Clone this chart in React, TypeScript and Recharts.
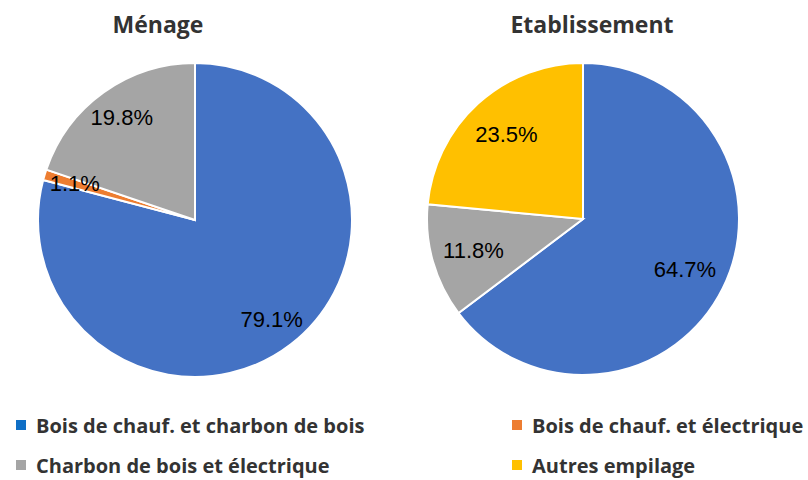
import { PieChart, Pie, Cell } from "recharts";

const categories = [
  "Bois de chauf. et charbon de bois",
  "Bois de chauf. et électrique",
  "Charbon de bois et électrique",
  "Autres empilage",
];

const menageValues = [79.1, 1.1, 19.8];
const etablissementValues = [64.7, 0, 11.8, 23.5];

const sliceColors = ["#4472C4", "#ED7D31", "#A5A5A5", "#FFC000"];
const legendColors = ["#0F6FC6", "#ED7D31", "#A5A5A5", "#FFC000"];

const menageData = menageValues.map((value, i) => ({ name: categories[i], value, color: sliceColors[i] }));
const etablissementData = etablissementValues
  .map((value, i) => ({ name: categories[i], value, color: sliceColors[i] }))
  .filter((d) => d.value > 0);

const RAD = Math.PI / 180;

function makeLabel(frac: number) {
  return (props: any) => {
    const { cx, cy, midAngle, outerRadius, value } = props;
    const r = outerRadius * frac;
    const x = cx + r * Math.cos(-midAngle * RAD);
    const y = cy + r * Math.sin(-midAngle * RAD);
    return (
      <text
        x={x}
        y={y}
        fill="#000"
        textAnchor="middle"
        dominantBaseline="central"
        style={{ fontFamily: "Liberation Sans, Arial, sans-serif", fontSize: 22 }}
      >
        {`${value.toFixed(1)}%`}
      </text>
    );
  };
}

const titleStyle: React.CSSProperties = {
  position: "absolute",
  top: 8,
  fontFamily: "'Open Sans', sans-serif",
  fontWeight: 700,
  fontSize: 23,
  color: "#333",
  textAlign: "center",
  width: 300,
};

export default function App() {
  return (
    <div
      style={{
        position: "absolute",
        left: 0,
        top: 0,
        width: 808,
        height: 480,
        background: "#fff",
        overflow: "hidden",
      }}
    >
      <div style={{ ...titleStyle, left: 8 }}>Ménage</div>
      <div style={{ ...titleStyle, left: 442 }}>Etablissement</div>
      <div style={{ position: "absolute", left: 0, top: 0 }}>
        <PieChart width={808} height={400}>
          <Pie
            data={menageData}
            dataKey="value"
            cx={190}
            cy={215}
            outerRadius={157}
            startAngle={90}
            endAngle={-270}
            stroke="#fff"
            strokeWidth={2}
            label={makeLabel(0.8)}
            labelLine={false}
            isAnimationActive={false}
          >
            {menageData.map((d) => (
              <Cell key={d.name} fill={d.color} />
            ))}
          </Pie>
          <Pie
            data={etablissementData}
            dataKey="value"
            cx={578}
            cy={214}
            outerRadius={156}
            startAngle={90}
            endAngle={-270}
            stroke="#fff"
            strokeWidth={2}
            label={makeLabel(0.73)}
            labelLine={false}
            isAnimationActive={false}
          >
            {etablissementData.map((d) => (
              <Cell key={d.name} fill={d.color} />
            ))}
          </Pie>
        </PieChart>
      </div>
      <div
        style={{
          position: "absolute",
          left: 0,
          top: 400,
          width: 808,
          fontFamily: "'Open Sans', sans-serif",
          fontWeight: 700,
          fontSize: 20,
          color: "#333",
        }}
      >
        {categories.map((name, i) => {
          const col = i % 2;
          const row = Math.floor(i / 2);
          return (
            <div
              key={name}
              style={{
                position: "absolute",
                left: col === 0 ? 16 : 512,
                top: row === 0 ? 11 : 51,
                display: "flex",
                alignItems: "center",
                whiteSpace: "nowrap",
                height: 28,
              }}
            >
              <span
                style={{
                  display: "inline-block",
                  width: 10,
                  height: 10,
                  background: legendColors[i],
                  marginRight: 10,
                }}
              />
              {name}
            </div>
          );
        })}
      </div>
    </div>
  );
}
